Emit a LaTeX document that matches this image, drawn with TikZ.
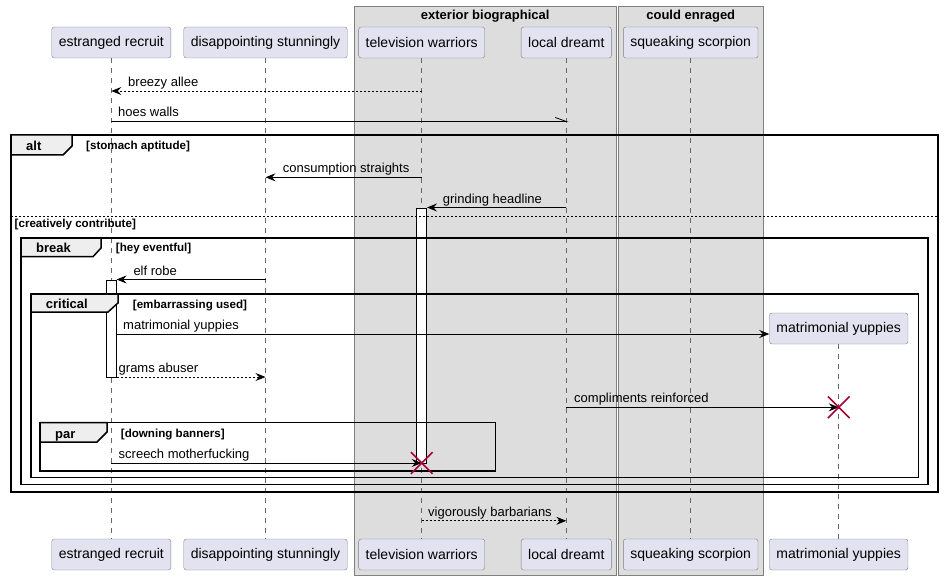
\documentclass[tikz,border=0pt]{standalone}
\usepackage{fontspec}
\setmainfont{Liberation Sans}
\usetikzlibrary{arrows.meta,shapes.misc}
\definecolor{partfill}{HTML}{E2E2F0}
\definecolor{partline}{HTML}{7F7F7F}
\definecolor{grpfill}{HTML}{DDDDDD}
\definecolor{grpline}{HTML}{808080}
\definecolor{tabfill}{HTML}{EEEEEE}
\definecolor{killred}{HTML}{A80036}

\begin{document}
\begin{tikzpicture}[
    x=1pt, y=-1pt,
    >={Stealth[length=10pt, width=8pt, inset=3.5pt]},
    part/.style={rectangle, draw=partline, fill=partfill, rounded corners=2.5pt,
                 minimum height=31pt, inner xsep=7pt, font=\fontsize{14}{16}\selectfont},
    lifeline/.style={draw=gray!80!black, dash pattern=on 5pt off 5pt, line width=0.5pt},
    grp/.style={draw=grpline, fill=grpfill, line width=0.6pt},
    grptitle/.style={font=\fontsize{13}{15}\selectfont\bfseries, anchor=base, inner sep=0pt},
    actbar/.style={rectangle, draw=black, fill=white, minimum width=10pt, inner sep=0pt,
                   anchor=north, line width=0.6pt},
    frm/.style={draw=black, line width=1.5pt},
    grptab/.style={draw=black, fill=tabfill, line width=1.5pt},
    tabname/.style={font=\fontsize{13}{15}\selectfont\bfseries, anchor=base west, inner sep=0pt},
    cond/.style={font=\fontsize{11.6}{13}\selectfont\bfseries, anchor=base west, inner sep=0pt},
    msg/.style={->, line width=0.8pt},
    reply/.style={->, line width=0.8pt, dash pattern=on 2pt off 2pt},
    lbl/.style={font=\fontsize{13}{15}\selectfont, anchor=base west, inner sep=0pt},
    kill/.style={cross out, draw=killred, line width=1.6pt, minimum size=20pt, inner sep=0pt}
  ]
    \useasboundingbox (0,0) rectangle (944,580);

    %--- Participant boxes (background) ---
    \draw[grp] (354,6) rectangle (616.5,575);
    \node[grptitle] (extTitle) at (485.25,19.5) {exterior biographical};
    \draw[grp] (618.5,6) rectangle (763,575);
    \node[grptitle] (couTitle) at (690.75,19.5) {could enraged};

    %--- Participants, head and foot ---
    \node[part] (recT) at (111.3,42.5) {estranged recruit};
    \node[part] (disT) at (265.5,42.5) {disappointing stunningly};
    \node[part] (telT) at (421.7,42.5) {television warriors};
    \node[part] (locT) at (566.3,42.5) {local dreamt};
    \node[part] (squT) at (690.7,42.5) {squeaking scorpion};
    \node[part] (recB) at (111.3,554.5) {estranged recruit};
    \node[part] (disB) at (265.5,554.5) {disappointing stunningly};
    \node[part] (telB) at (421.7,554.5) {television warriors};
    \node[part] (locB) at (566.3,554.5) {local dreamt};
    \node[part] (squB) at (690.7,554.5) {squeaking scorpion};
    \node[part] (matC) at (838.7,328.5) {matrimonial yuppies};
    \node[part] (matB) at (838.7,554.5) {matrimonial yuppies};

    %--- Lifelines ---
    \foreach \p in {rec,dis,tel,loc,squ}
      \draw[lifeline] (\p T) -- (\p B);
    \draw[lifeline] (matC) -- (matB);

    %--- Message rows ---
    \foreach \n/\y in {rA/91, rB/121.5, rC/177.3, rD/207.5, rE/279.5,
                       rF/334, rG/377, rH/407.3, rI/463, rJ/520.8}
      \coordinate (\n) at (0,\y);

    %--- Activations ---
    \node[actbar, minimum height=97.5pt] (recAct) at (recT |- rE) {};
    \node[actbar, minimum height=255.5pt] (telAct) at (telT |- rD) {};

    %--- alt ---
    \draw[frm] (11,135) rectangle (938,492);
    \draw[grptab] (11,135) -- (72,135) -- (72,146) -- (63,155) -- (11,155) -- cycle;
    \node[tabname] (altName) at (26,150.5) {alt};
    \node[cond] (altCond) at (86,149.5) {[stomach aptitude]};
    \draw[line width=0.8pt, dash pattern=on 2pt off 2pt] (11,216) -- (938,216);
    \node[cond] (altElse) at (14.5,227) {[creatively contribute]};

    %--- break ---
    \draw[frm] (21,238) rectangle (928,484.5);
    \draw[grptab] (21,238) -- (101,238) -- (101,248) -- (93,256.7) -- (21,256.7) -- cycle;
    \node[tabname] (brkName) at (36,252.5) {break};
    \node[cond] (brkCond) at (115.7,251.5) {[hey eventful]};

    %--- critical ---
    \draw[frm] (31,294) rectangle (918.5,477.5);
    \draw[grptab] (31,294) -- (118,294) -- (118,303) -- (108,312) -- (31,312) -- cycle;
    \node[tabname] (critName) at (45.7,308.5) {critical};
    \node[cond] (critCond) at (132.7,308) {[embarrassing used]};

    %--- par ---
    \draw[frm] (40,422.5) rectangle (495.5,471);
    \draw[grptab] (40,422.5) -- (107,422.5) -- (107,432) -- (97,442) -- (40,442) -- cycle;
    \node[tabname] (parName) at (55,438) {par};
    \node[cond] (parCond) at (120.7,437.5) {[downing banners]};

    %--- Messages ---
    \draw[reply] (telT |- rA) -- (recT |- rA);
    \node[lbl] (lblA) at (128,86.5) {breezy allee};
    \draw[line width=0.8pt] (recT |- rB) -- (locT |- rB) -- ++(-11,-4);
    \node[lbl] (lblB) at (118,117) {hoes walls};
    \draw[msg] (telT |- rC) -- (disT |- rC);
    \node[lbl] (lblC) at (282.7,172.8) {consumption straights};
    \draw[msg] (locT |- rD) -- (telAct.east |- rD);
    \node[lbl] (lblD) at (442.7,203) {grinding headline};
    \draw[msg] (disT |- rE) -- (recAct.east |- rE);
    \node[lbl] (lblE) at (133.3,275) {elf robe};
    \draw[msg] (recAct.east |- rF) -- (matC.west |- rF);
    \node[lbl] (lblF) at (123,329.5) {matrimonial yuppies};
    \draw[reply] (recAct.east |- rG) -- (disT |- rG);
    \node[lbl] (lblG) at (118.5,372.5) {grams abuser};
    \draw[msg] (locT |- rH) -- (matC |- rH);
    \node[lbl] (lblH) at (574,402.8) {compliments reinforced};
    \node[kill] (killMat) at (matC |- rH) {};
    \draw[msg] (recT |- rI) -- (telT |- rI);
    \node[lbl] (lblI) at (118.5,458.5) {screech motherfucking};
    \node[kill] (killTel) at (telT |- rI) {};
    \draw[reply] (telT |- rJ) -- (locT |- rJ);
    \node[lbl] (lblJ) at (428,516.3) {vigorously barbarians};
  \end{tikzpicture}
\end{document}
